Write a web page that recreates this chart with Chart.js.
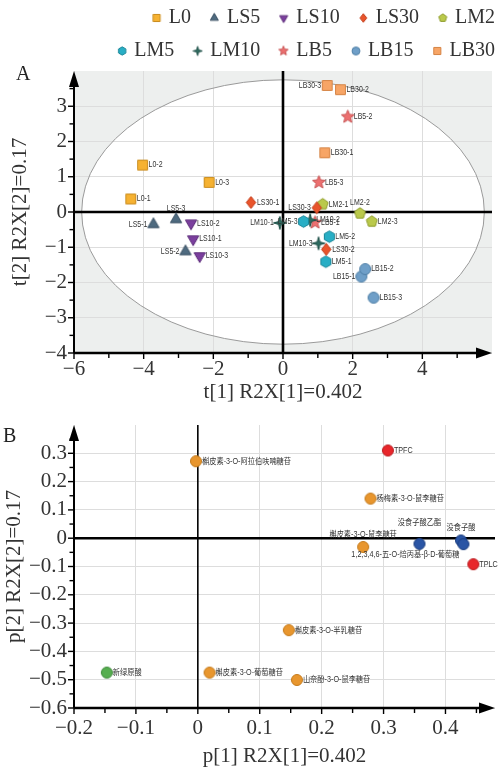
<!DOCTYPE html>
<html>
<head>
<meta charset="utf-8">
<script src="https://cdn.jsdelivr.net/npm/chart.js@4.4.1/dist/chart.umd.min.js"></script>
<style>
  html, body { margin: 0; padding: 0; background: #fff; }
  body { width: 502px; height: 767px; overflow: hidden; position: relative; }
  #boxA { position: absolute; left: 6px; top: -5px; width: 502px; height: 415px; }
  #boxB { position: absolute; left: 0; top: 415px; width: 502px; height: 352px; }
</style>
</head>
<body>
<div id="boxA"><canvas id="chartA"></canvas></div>
<div id="boxB"><canvas id="chartB"></canvas></div>
<script>
// ---- A: score plot, one [t1, t2] pair per replicate (-1, -2, -3) ----
const seriesA = ['L0', 'LS5', 'LS10', 'LS30', 'LM2', 'LM5', 'LM10', 'LB5', 'LB15', 'LB30'];
const L0   = [[-4.37, 0.37], [-4.03, 1.33], [-2.12, 0.84]];
const LS5  = [[-3.72, -0.35], [-2.80, -1.12], [-3.07, -0.21]];
const LS10 = [[-2.58, -0.77], [-2.64, -0.32], [-2.39, -1.25]];
const LS30 = [[-0.92, 0.27], [1.24, -1.06], [0.97, 0.12]];
const LM2  = [[1.14, 0.22], [2.21, -0.04], [2.55, -0.27]];
const LM5  = [[1.23, -1.41], [1.33, -0.70], [0.59, -0.27]];
const LM10 = [[-0.09, -0.31], [0.78, -0.23], [1.02, -0.89]];
const LB5  = [[0.92, -0.30], [1.86, 2.70], [1.03, 0.84]];
const LB15 = [[2.25, -1.83], [2.36, -1.62], [2.60, -2.43]];
const LB30 = [[1.20, 1.68], [1.65, 3.47], [1.27, 3.59]];
const pointsA = [L0, LS5, LS10, LS30, LM2, LM5, LM10, LB5, LB15, LB30];
const ellipseA = [5.78, 3.75];
const xTicksA = [-6, -4, -2, 0, 2, 4];
const xMinorA = [-5, -3, -1, 1, 3, 5];
const yTicksA = [-4, -3, -2, -1, 0, 1, 2, 3];
const yMinorA = [-3.5, -2.5, -1.5, -0.5, 0.5, 1.5, 2.5, 3.5];

// ---- B: loading plot ----
const namesB = ['槲皮素-3-O-阿拉伯呋喃糖苷', 'TPFC', '杨梅素-3-O-鼠李糖苷', '槲皮素-3-O-鼠李糖苷',
  '没食子酸乙酯', '没食子酸', '1,2,3,4,6-五-O-焙丙基-β-D-葡萄糖', 'TPLC',
  '槲皮素-3-O-半乳糖苷', '新绿原酸', '槲皮素-3-O-葡萄糖苷', '山奈酚-3-O-鼠李糖苷'];
const p1B = [-0.003, 0.307, 0.279, 0.267, 0.358, 0.425, 0.429, 0.445, 0.147, -0.147, 0.019, 0.160];
const p2B = [0.272, 0.310, 0.140, -0.031, -0.020, -0.008, -0.021, -0.092, -0.325, -0.475, -0.475, -0.501];
const groupB = ['o', 'r', 'o', 'o', 'b', 'b', 'b', 'r', 'o', 'g', 'o', 'o'];
const xTicksB = [-0.2, -0.1, 0, 0.1, 0.2, 0.3, 0.4];
const xMinorB = [-0.15, -0.05, 0.05, 0.15, 0.25, 0.35, 0.45];
const yTicksB = [-0.6, -0.5, -0.4, -0.3, -0.2, -0.1, 0, 0.1, 0.2, 0.3];
const yMinorB = [-0.55, -0.45, -0.35, -0.25, -0.15, -0.05, 0.05, 0.15, 0.25, 0.35];

const SERIF = '"Liberation Serif", "Times New Roman", serif';
const SANS = '"Liberation Sans", "Noto Sans CJK SC", sans-serif';
const TXT = '#333';

// marker shape, fill, outline per series of A
const styleA = [
  ['square', '#f6b232', '#c98b1c'],
  ['triangle', '#4f6b80', '#3a5063'],
  ['triangleDown', '#7b3f9e', '#5b2b78'],
  ['diamond', '#e9542b', '#c43f1c'],
  ['pentagon', '#bac94b', '#8f9d2f'],
  ['hexagon', '#28aec5', '#1b8799'],
  ['star4', '#2c6b5f', '#1f5048'],
  ['star5', '#ec7070', '#c85353'],
  ['circle', '#6f9fc8', '#4f7fa6'],
  ['square', '#f7a566', '#d58445']
];
const colorsB = { o: ['#e8962e', '#c47a1b'], r: ['#e8262b', '#b81c20'], b: ['#2a55a5', '#1d3f80'], g: ['#56ae4f', '#3e8a3a'] };

// shift moves the marker right of the image centre (used for the legend boxes)
function makeMarker(shape, fill, stroke, r, shift = 0) {
  const s = Math.ceil(2 * r + 3);
  const c = document.createElement('canvas');
  c.width = s + 2 * Math.ceil(shift);
  c.height = s;
  const g = c.getContext('2d');
  const cx = c.width / 2 + shift, cy = s / 2, up = -Math.PI / 2;
  const poly = (n, rot, inner) => {
    const k = inner ? n * 2 : n;
    for (let i = 0; i < k; i++) {
      const a = rot + i * Math.PI * 2 / k;
      const rr = inner && i % 2 ? r * inner : r;
      g.lineTo(cx + rr * Math.cos(a), cy + rr * Math.sin(a));
    }
    g.closePath();
  };
  g.beginPath();
  if (shape === 'square') g.rect(cx - r * 0.85, cy - r * 0.85, r * 1.7, r * 1.7);
  else if (shape === 'circle') g.arc(cx, cy, r, 0, Math.PI * 2);
  else if (shape === 'triangle') poly(3, up);
  else if (shape === 'triangleDown') poly(3, -up);
  else if (shape === 'diamond') {
    g.moveTo(cx, cy - r); g.lineTo(cx + r * 0.78, cy); g.lineTo(cx, cy + r); g.lineTo(cx - r * 0.78, cy); g.closePath();
  }
  else if (shape === 'pentagon') poly(5, up);
  else if (shape === 'hexagon') poly(6, up);
  else if (shape === 'star4') poly(4, up, 0.3);
  else if (shape === 'star5') poly(5, up, 0.45);
  g.fillStyle = fill;
  g.fill();
  g.lineWidth = 1;
  g.strokeStyle = stroke;
  g.stroke();
  return c;
}

const LEGEND_BOX = 13;
const pointSizeA = { triangle: 6.5, triangleDown: 6.5, star5: 6.8, star4: 6.5, diamond: 6, circle: 5.5 };
const markA = styleA.map(s => makeMarker(s[0], s[1], s[2], pointSizeA[s[0]] || 5.8));
const legendMarkA = styleA.map(s => {
  const r = (pointSizeA[s[0]] || 5.8) * 0.72;
  return makeMarker(s[0], s[1], s[2], r, Math.max(0, 8.5 - r));
});

const fmtInt = v => (v < 0 ? '\u2212' + (-v) : String(v));
const fmtDec = v => (v === 0 ? '0' : (v < 0 ? '\u2212' : '') + Math.abs(v).toFixed(1));

// axes with arrows, zero lines, tick marks, optional T2 ellipse and panel letter
function frame(cfg) {
  return {
    id: 'frame',
    beforeDraw(chart) {
      if (!cfg.ellipse) return;
      const { ctx, chartArea: a, scales: { x, y } } = chart;
      const cx = x.getPixelForValue(0), cy = y.getPixelForValue(0);
      ctx.save();
      ctx.fillStyle = '#edefee';
      ctx.fillRect(a.left, a.top, a.width, a.height);
      ctx.beginPath();
      ctx.ellipse(cx, cy, x.getPixelForValue(cfg.ellipse[0]) - cx, cy - y.getPixelForValue(cfg.ellipse[1]), 0, 0, Math.PI * 2);
      ctx.fillStyle = '#fff';
      ctx.fill();
      ctx.restore();
    },
    beforeDatasetsDraw(chart) {
      const { ctx, chartArea: a, scales: { x, y } } = chart;
      const line = (x1, y1, x2, y2, w) => {
        ctx.lineWidth = w;
        ctx.beginPath();
        ctx.moveTo(x1, y1);
        ctx.lineTo(x2, y2);
        ctx.stroke();
      };
      ctx.save();
      if (cfg.ellipse) {
        const cx = x.getPixelForValue(0), cy = y.getPixelForValue(0);
        ctx.beginPath();
        ctx.ellipse(cx, cy, x.getPixelForValue(cfg.ellipse[0]) - cx, cy - y.getPixelForValue(cfg.ellipse[1]), 0, 0, Math.PI * 2);
        ctx.strokeStyle = '#9a9a9a';
        ctx.lineWidth = 1;
        ctx.stroke();
      }
      ctx.strokeStyle = '#000';
      ctx.fillStyle = '#000';
      const x0 = x.getPixelForValue(0), y0 = y.getPixelForValue(0);
      line(x0, a.bottom, x0, a.top, cfg.zeroW[0]);
      line(a.left, y0, a.right, y0, cfg.zeroW[1]);
      cfg.xMajor.forEach(v => { const p = x.getPixelForValue(v); line(p, a.bottom, p, a.bottom + 6, 1.4); });
      cfg.xMinor.forEach(v => { const p = x.getPixelForValue(v); line(p, a.bottom, p, a.bottom + 5, 1.4); });
      cfg.yMajor.forEach(v => { const p = y.getPixelForValue(v); line(a.left, p, a.left - 6, p, 1.4); });
      cfg.yMinor.forEach(v => { const p = y.getPixelForValue(v); line(a.left, p, a.left - 4.5, p, 1.4); });
      line(a.left, a.bottom, a.right - 10, a.bottom, 2.5);
      line(a.left, a.bottom, a.left, a.top + 10, 2);
      ctx.beginPath();
      ctx.moveTo(a.right, a.bottom);
      ctx.lineTo(a.right - 16, a.bottom - 5.5);
      ctx.lineTo(a.right - 16, a.bottom + 5.5);
      ctx.closePath();
      ctx.fill();
      ctx.beginPath();
      ctx.moveTo(a.left, a.top);
      ctx.lineTo(a.left - 5, a.top + 16);
      ctx.lineTo(a.left + 5, a.top + 16);
      ctx.closePath();
      ctx.fill();
      ctx.font = '20px ' + SERIF;
      ctx.fillStyle = '#222';
      ctx.textBaseline = 'middle';
      ctx.fillText(cfg.letter[0], cfg.letter[1], cfg.letter[2]);
      ctx.restore();
    }
  };
}

// text next to each point, placed by place(name) -> [dx, dy, align]; squeezed sideways like a narrow face
function pointLabels(font, squeeze, place) {
  return {
    id: 'pointLabels',
    afterDatasetsDraw(chart) {
      const ctx = chart.ctx;
      chart.data.datasets.forEach((ds, i) => {
        chart.getDatasetMeta(i).data.forEach((pt, j) => {
          const name = ds.data[j].name;
          const [dx, dy, align] = place(name);
          ctx.save();
          ctx.font = font;
          ctx.fillStyle = TXT;
          ctx.textBaseline = 'middle';
          ctx.textAlign = align;
          ctx.translate(pt.x + dx, pt.y + dy);
          ctx.scale(squeeze, 1);
          ctx.fillText(name, 0, 0);
          ctx.restore();
        });
      });
    }
  };
}

// legend rows are laid out against a narrower width so they break after five entries
const legendWrap = width => ({
  id: 'legendWrap',
  beforeLayout(chart) {
    const lg = chart.legend;
    if (!lg || lg._wrapped) return;
    const update = lg.update.bind(lg);
    lg.update = (w, h, m) => update(Math.min(w, width), h, m);
    lg._wrapped = true;
  }
});

const noPad = s => { s.paddingTop = 0; s.paddingBottom = 0; s.paddingLeft = 0; s.paddingRight = 0; };
const tickFont = { family: SERIF, size: 21 };
const titleFont = { family: SERIF, size: 21, lineHeight: 1 };

const leftA = ['LS5-1', 'LS5-2', 'LS30-3', 'LM5-3', 'LM10-1', 'LM10-3', 'LB15-1', 'LB30-3'];
const topA = ['LS5-3', 'LM2-2'];

new Chart(document.getElementById('chartA'), {
  type: 'scatter',
  data: {
    datasets: seriesA.map((name, i) => ({
      label: name,
      data: pointsA[i].map((p, j) => ({ x: p[0], y: p[1], name: name + '-' + (j + 1) })),
      pointStyle: markA[i],
      pointRadius: 6,
      pointHoverRadius: 6
    }))
  },
  options: {
    responsive: true,
    maintainAspectRatio: false,
    animation: false,
    events: [],
    layout: { padding: 0 },
    plugins: {
      tooltip: { enabled: false },
      legend: {
        position: 'top',
        align: 'end',
        labels: {
          usePointStyle: true,
          pointStyleWidth: LEGEND_BOX,
          padding: 13,
          color: TXT,
          font: { family: SERIF, size: 20 },
          generateLabels: chart => Chart.defaults.plugins.legend.labels.generateLabels(chart)
            .map((it, i) => Object.assign(it, { pointStyle: legendMarkA[i] }))
        }
      }
    },
    scales: {
      x: {
        type: 'linear', min: -6, max: 6,
        afterBuildTicks: s => { s.ticks = xTicksA.map(v => ({ value: v })); },
        afterFit: s => { s.height = 57; noPad(s); },
        grid: { color: '#dddddd', drawTicks: false },
        border: { display: false },
        ticks: { padding: 3.5, color: TXT, font: tickFont, maxRotation: 0, autoSkip: false, callback: fmtInt },
        title: { display: true, text: 't[1] R2X[1]=0.402', color: TXT, font: titleFont, padding: { top: 0, bottom: 7.5 } }
      },
      y: {
        type: 'linear', position: 'left', min: -4, max: 4,
        afterBuildTicks: s => { s.ticks = yTicksA.map(v => ({ value: v })); },
        afterFit: s => { s.width = 68; noPad(s); },
        grid: { color: '#dddddd', drawTicks: false },
        border: { display: false },
        ticks: { padding: 7, color: TXT, font: tickFont, autoSkip: false, callback: fmtInt },
        title: { display: true, text: 't[2] R2X[2]=0.17', color: TXT, font: titleFont, padding: { top: 3.5, bottom: 0 } }
      },
      yRight: {
        type: 'linear', position: 'right', display: true,
        grid: { display: false }, border: { display: false }, ticks: { display: false },
        afterFit: s => { s.width = 16; noPad(s); }
      }
    }
  },
  plugins: [
    legendWrap(440),
    frame({ ellipse: ellipseA, zeroW: [2.6, 2.6], xMajor: xTicksA, xMinor: xMinorA, yMajor: yTicksA, yMinor: yMinorA, letter: ['A', 10, 80] }),
    pointLabels('8.5px ' + SANS, 0.82, name =>
      leftA.includes(name) ? [-6, 0, 'right'] : topA.includes(name) ? [0, -11, 'center'] : [6, 0, 'left'])
  ]
});

const placeB = {
  '槲皮素-3-O-鼠李糖苷': [0, -12, 'center'],
  '没食子酸乙酯': [0, -21, 'center'],
  '没食子酸': [0, -13, 'center'],
  '1,2,3,4,6-五-O-焙丙基-β-D-葡萄糖': [-58, 11, 'center']
};

new Chart(document.getElementById('chartB'), {
  type: 'scatter',
  data: {
    datasets: ['o', 'r', 'b', 'g'].map(gk => ({
      label: gk,
      data: namesB.map((n, i) => ({ x: p1B[i], y: p2B[i], name: n, g: groupB[i] })).filter(d => d.g === gk),
      pointStyle: makeMarker('circle', colorsB[gk][0], colorsB[gk][1], 5.5),
      pointRadius: 6,
      pointHoverRadius: 6
    }))
  },
  options: {
    responsive: true,
    maintainAspectRatio: false,
    animation: false,
    events: [],
    layout: { padding: { top: 10, right: 2, left: 0, bottom: 0 } },
    plugins: { tooltip: { enabled: false }, legend: { display: false } },
    scales: {
      x: {
        type: 'linear', min: -0.2, max: 0.48,
        afterBuildTicks: s => { s.ticks = xTicksB.map(v => ({ value: v })); },
        afterFit: s => { s.height = 59; noPad(s); },
        grid: { color: '#dddddd', drawTicks: false },
        border: { display: false },
        ticks: { padding: 7.5, color: TXT, font: tickFont, maxRotation: 0, autoSkip: false, callback: fmtDec },
        title: { display: true, text: 'p[1] R2X[1]=0.402', color: TXT, font: titleFont, padding: { top: 0, bottom: 0 } }
      },
      y: {
        type: 'linear', position: 'left', min: -0.6, max: 0.4,
        afterBuildTicks: s => { s.ticks = yTicksB.map(v => ({ value: v })); },
        afterFit: s => { s.width = 74; noPad(s); },
        grid: { color: '#dddddd', drawTicks: false },
        border: { display: false },
        ticks: { padding: 7, color: TXT, font: tickFont, autoSkip: false, callback: fmtDec },
        title: { display: true, text: 'p[2] R2X[2]=0.17', color: TXT, font: titleFont, padding: { top: 3.5, bottom: 0 } }
      }
    }
  },
  plugins: [
    frame({ zeroW: [1.6, 2.6], xMajor: xTicksB, xMinor: xMinorB, yMajor: yTicksB, yMinor: yMinorB, letter: ['B', 3, 22] }),
    pointLabels('8.5px ' + SANS, 0.85, name => placeB[name] || [6, 0, 'left'])
  ]
});
</script>
</body>
</html>
